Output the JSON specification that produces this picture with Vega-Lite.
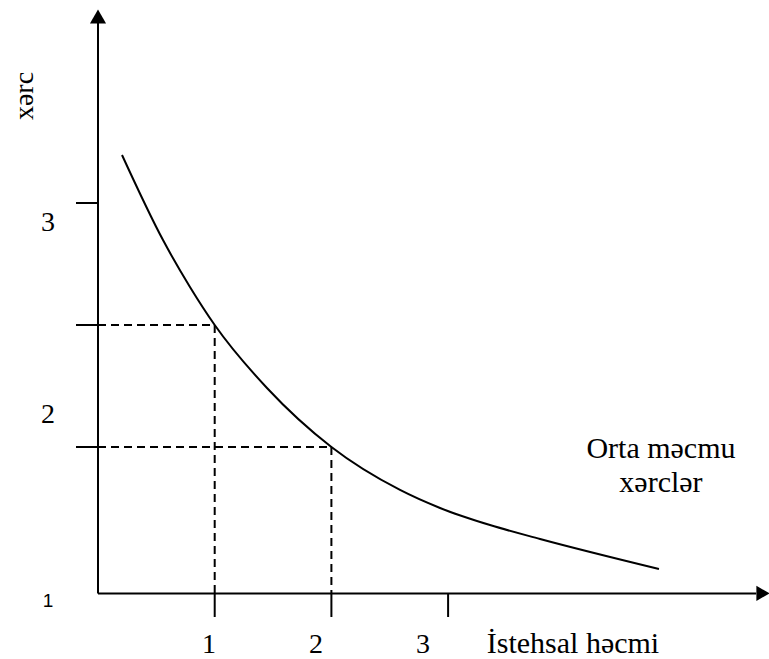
{
  "$schema": "https://vega.github.io/schema/vega-lite/v6.json",
  "width": 769,
  "height": 659,
  "autosize": {"type": "none"},
  "padding": 0,
  "background": "white",
  "config": {"view": {"stroke": null}},
  "datasets": {
    "axes": [
      {"x": 0, "y": 1.4, "x2": 5.64, "y2": 1.4},
      {"x": 0, "y": 1.4, "x2": 0, "y2": 3.74}
    ],
    "ticks": [
      {"x": -0.1885, "y": 3, "x2": 0, "y2": 3},
      {"x": -0.1885, "y": 2.5, "x2": 0, "y2": 2.5},
      {"x": -0.1885, "y": 2, "x2": 0, "y2": 2},
      {"x": 1, "y": 1.4, "x2": 1, "y2": 1.3033},
      {"x": 2, "y": 1.4, "x2": 2, "y2": 1.3033},
      {"x": 3, "y": 1.4, "x2": 3, "y2": 1.3033}
    ],
    "dashed": [
      {"x": 0, "y": 2.5, "x2": 1, "y2": 2.5},
      {"x": 1, "y": 2.5, "x2": 1, "y2": 1.4},
      {"x": 0, "y": 2, "x2": 2, "y2": 2},
      {"x": 2, "y": 2, "x2": 2, "y2": 1.4}
    ],
    "curve": [
      {"x": 0.2057, "y": 3.1967},
      {"x": 0.557, "y": 2.848},
      {"x": 0.788, "y": 2.656},
      {"x": 1.0, "y": 2.5},
      {"x": 1.448, "y": 2.2418},
      {"x": 2.0, "y": 2.0},
      {"x": 2.588, "y": 1.824},
      {"x": 2.931, "y": 1.75},
      {"x": 3.359, "y": 1.68},
      {"x": 3.788, "y": 1.623},
      {"x": 4.807, "y": 1.5}
    ],
    "arrowUp": [{"x": 0, "y": 3.764}],
    "arrowRight": [{"x": 5.698, "y": 1.4}],
    "numbers": [
      {"text": "3", "x": -0.4285, "y": 2.885},
      {"text": "2", "x": -0.4285, "y": 2.098},
      {"text": "1", "x": 0.951, "y": 1.1557},
      {"text": "2", "x": 1.868, "y": 1.1557},
      {"text": "3", "x": 2.785, "y": 1.1557}
    ],
    "words": [
      {"text": "İstehsal həcmi", "x": 4.07, "y": 1.1557},
      {"text": "Orta məcmu", "x": 4.824, "y": 1.955},
      {"text": "xərclər", "x": 4.824, "y": 1.8156}
    ],
    "small": [{"text": "1", "x": -0.4285, "y": 1.344}],
    "ytitle": [{"text": "xərc", "x": -0.6255, "y": 3.4385}]
  },
  "encoding": {
    "x": {"field": "x", "type": "quantitative", "scale": {"domain": [-0.8398, 5.7498], "nice": false, "zero": false}, "axis": null},
    "y": {"field": "y", "type": "quantitative", "scale": {"domain": [1.1311, 3.832], "nice": false, "zero": false}, "axis": null}
  },
  "layer": [
    {
      "data": {"name": "axes"},
      "mark": {"type": "rule", "color": "black", "strokeWidth": 2},
      "encoding": {"x2": {"field": "x2"}, "y2": {"field": "y2"}}
    },
    {
      "data": {"name": "ticks"},
      "mark": {"type": "rule", "color": "black", "strokeWidth": 2},
      "encoding": {"x2": {"field": "x2"}, "y2": {"field": "y2"}}
    },
    {
      "data": {"name": "dashed"},
      "mark": {"type": "rule", "color": "black", "strokeWidth": 2, "strokeDash": [8, 5]},
      "encoding": {"x2": {"field": "x2"}, "y2": {"field": "y2"}}
    },
    {
      "data": {"name": "curve"},
      "mark": {"type": "line", "color": "black", "strokeWidth": 2, "interpolate": "monotone"},
      "encoding": {}
    },
    {
      "data": {"name": "arrowUp"},
      "mark": {"type": "point", "shape": "triangle-up", "size": 260, "filled": true, "color": "black", "opacity": 1},
      "encoding": {}
    },
    {
      "data": {"name": "arrowRight"},
      "mark": {"type": "point", "shape": "triangle-right", "size": 230, "filled": true, "color": "black", "opacity": 1},
      "encoding": {}
    },
    {
      "data": {"name": "numbers"},
      "mark": {"type": "text", "font": "Liberation Serif", "fontSize": 28, "align": "center", "baseline": "alphabetic", "color": "black"},
      "encoding": {"text": {"field": "text"}}
    },
    {
      "data": {"name": "words"},
      "mark": {"type": "text", "font": "Liberation Serif", "fontSize": 30, "align": "center", "baseline": "alphabetic", "color": "black"},
      "encoding": {"text": {"field": "text"}}
    },
    {
      "data": {"name": "small"},
      "mark": {"type": "text", "font": "Liberation Sans", "fontSize": 19, "align": "center", "baseline": "alphabetic", "color": "black"},
      "encoding": {"text": {"field": "text"}}
    },
    {
      "data": {"name": "ytitle"},
      "mark": {"type": "text", "font": "Liberation Serif", "fontSize": 28, "angle": 270, "align": "center", "baseline": "middle", "color": "black"},
      "encoding": {"text": {"field": "text"}}
    }
  ]
}
